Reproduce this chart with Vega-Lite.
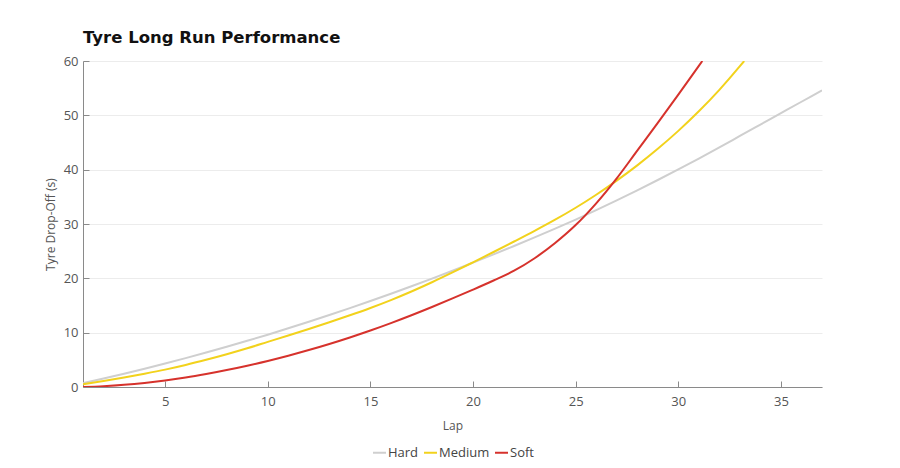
{
  "$schema": "https://vega.github.io/schema/vega-lite/v6.json",
  "autosize": {"type": "none"},
  "width": 739,
  "height": 326,
  "padding": {"left": 83, "top": 61, "right": 78, "bottom": 81},
  "background": "white",
  "title": {
    "text": "Tyre Long Run Performance",
    "anchor": "start",
    "frame": "group",
    "font": "DejaVu Sans",
    "fontSize": 16.5,
    "fontWeight": "bold",
    "color": "#111111",
    "offset": 9
  },
  "config": {
    "view": {"stroke": null},
    "font": "Open Sans",
    "axis": {
      "labelFont": "Open Sans",
      "titleFont": "Open Sans",
      "labelColor": "#555555",
      "titleColor": "#555555",
      "labelFontSize": 13,
      "titleFontSize": 12,
      "titleFontWeight": "normal",
      "domainColor": "#8a8a8a",
      "tickColor": "#8a8a8a",
      "gridColor": "#ececec"
    },
    "legend": {
      "labelFont": "Open Sans",
      "labelFontSize": 13,
      "labelColor": "#444444"
    }
  },
  "data": {
    "values": [
      {"lap": 1, "tyre": "Hard", "drop": 0.7},
      {"lap": 2, "tyre": "Hard", "drop": 1.55},
      {"lap": 3, "tyre": "Hard", "drop": 2.44},
      {"lap": 4, "tyre": "Hard", "drop": 3.36},
      {"lap": 5, "tyre": "Hard", "drop": 4.32},
      {"lap": 6, "tyre": "Hard", "drop": 5.31},
      {"lap": 7, "tyre": "Hard", "drop": 6.34},
      {"lap": 8, "tyre": "Hard", "drop": 7.4},
      {"lap": 9, "tyre": "Hard", "drop": 8.5},
      {"lap": 10, "tyre": "Hard", "drop": 9.63},
      {"lap": 11, "tyre": "Hard", "drop": 10.8},
      {"lap": 12, "tyre": "Hard", "drop": 12.0},
      {"lap": 13, "tyre": "Hard", "drop": 13.24},
      {"lap": 14, "tyre": "Hard", "drop": 14.51},
      {"lap": 15, "tyre": "Hard", "drop": 15.82},
      {"lap": 16, "tyre": "Hard", "drop": 17.16},
      {"lap": 17, "tyre": "Hard", "drop": 18.54},
      {"lap": 18, "tyre": "Hard", "drop": 19.95},
      {"lap": 19, "tyre": "Hard", "drop": 21.4},
      {"lap": 20, "tyre": "Hard", "drop": 22.88},
      {"lap": 21, "tyre": "Hard", "drop": 24.4},
      {"lap": 22, "tyre": "Hard", "drop": 25.95},
      {"lap": 23, "tyre": "Hard", "drop": 27.54},
      {"lap": 24, "tyre": "Hard", "drop": 29.16},
      {"lap": 25, "tyre": "Hard", "drop": 30.82},
      {"lap": 26, "tyre": "Hard", "drop": 32.55},
      {"lap": 27, "tyre": "Hard", "drop": 34.35},
      {"lap": 28, "tyre": "Hard", "drop": 36.2},
      {"lap": 29, "tyre": "Hard", "drop": 38.1},
      {"lap": 30, "tyre": "Hard", "drop": 40.05},
      {"lap": 31, "tyre": "Hard", "drop": 42.05},
      {"lap": 32, "tyre": "Hard", "drop": 44.1},
      {"lap": 33, "tyre": "Hard", "drop": 46.2},
      {"lap": 34, "tyre": "Hard", "drop": 48.3},
      {"lap": 35, "tyre": "Hard", "drop": 50.4},
      {"lap": 36, "tyre": "Hard", "drop": 52.5},
      {"lap": 37, "tyre": "Hard", "drop": 54.6},
      {"lap": 1, "tyre": "Medium", "drop": 0.5},
      {"lap": 2, "tyre": "Medium", "drop": 1.1},
      {"lap": 3, "tyre": "Medium", "drop": 1.75},
      {"lap": 4, "tyre": "Medium", "drop": 2.45},
      {"lap": 5, "tyre": "Medium", "drop": 3.2},
      {"lap": 6, "tyre": "Medium", "drop": 4.05},
      {"lap": 7, "tyre": "Medium", "drop": 5.0},
      {"lap": 8, "tyre": "Medium", "drop": 6.02},
      {"lap": 9, "tyre": "Medium", "drop": 7.12},
      {"lap": 10, "tyre": "Medium", "drop": 8.3},
      {"lap": 11, "tyre": "Medium", "drop": 9.48},
      {"lap": 12, "tyre": "Medium", "drop": 10.68},
      {"lap": 13, "tyre": "Medium", "drop": 11.92},
      {"lap": 14, "tyre": "Medium", "drop": 13.2},
      {"lap": 15, "tyre": "Medium", "drop": 14.55},
      {"lap": 16, "tyre": "Medium", "drop": 16.0},
      {"lap": 17, "tyre": "Medium", "drop": 17.58},
      {"lap": 18, "tyre": "Medium", "drop": 19.28},
      {"lap": 19, "tyre": "Medium", "drop": 21.08},
      {"lap": 20, "tyre": "Medium", "drop": 22.95},
      {"lap": 21, "tyre": "Medium", "drop": 24.85},
      {"lap": 22, "tyre": "Medium", "drop": 26.78},
      {"lap": 23, "tyre": "Medium", "drop": 28.74},
      {"lap": 24, "tyre": "Medium", "drop": 30.79},
      {"lap": 25, "tyre": "Medium", "drop": 32.99},
      {"lap": 26, "tyre": "Medium", "drop": 35.39},
      {"lap": 27, "tyre": "Medium", "drop": 37.99},
      {"lap": 28, "tyre": "Medium", "drop": 40.79},
      {"lap": 29, "tyre": "Medium", "drop": 43.84},
      {"lap": 30, "tyre": "Medium", "drop": 47.14},
      {"lap": 31, "tyre": "Medium", "drop": 50.74},
      {"lap": 32, "tyre": "Medium", "drop": 54.69},
      {"lap": 33, "tyre": "Medium", "drop": 59.04},
      {"lap": 33.21, "tyre": "Medium", "drop": 60.0},
      {"lap": 1, "tyre": "Soft", "drop": 0.0},
      {"lap": 2, "tyre": "Soft", "drop": 0.15},
      {"lap": 3, "tyre": "Soft", "drop": 0.4},
      {"lap": 4, "tyre": "Soft", "drop": 0.75},
      {"lap": 5, "tyre": "Soft", "drop": 1.2},
      {"lap": 6, "tyre": "Soft", "drop": 1.75},
      {"lap": 7, "tyre": "Soft", "drop": 2.4},
      {"lap": 8, "tyre": "Soft", "drop": 3.12},
      {"lap": 9, "tyre": "Soft", "drop": 3.92},
      {"lap": 10, "tyre": "Soft", "drop": 4.8},
      {"lap": 11, "tyre": "Soft", "drop": 5.76},
      {"lap": 12, "tyre": "Soft", "drop": 6.8},
      {"lap": 13, "tyre": "Soft", "drop": 7.92},
      {"lap": 14, "tyre": "Soft", "drop": 9.12},
      {"lap": 15, "tyre": "Soft", "drop": 10.4},
      {"lap": 16, "tyre": "Soft", "drop": 11.76},
      {"lap": 17, "tyre": "Soft", "drop": 13.2},
      {"lap": 18, "tyre": "Soft", "drop": 14.72},
      {"lap": 19, "tyre": "Soft", "drop": 16.3},
      {"lap": 20, "tyre": "Soft", "drop": 17.92},
      {"lap": 21, "tyre": "Soft", "drop": 19.6},
      {"lap": 22, "tyre": "Soft", "drop": 21.4},
      {"lap": 23, "tyre": "Soft", "drop": 23.7},
      {"lap": 24, "tyre": "Soft", "drop": 26.5},
      {"lap": 25, "tyre": "Soft", "drop": 29.8},
      {"lap": 26, "tyre": "Soft", "drop": 33.8},
      {"lap": 27, "tyre": "Soft", "drop": 38.4},
      {"lap": 28, "tyre": "Soft", "drop": 43.5},
      {"lap": 29, "tyre": "Soft", "drop": 48.6},
      {"lap": 30, "tyre": "Soft", "drop": 53.8},
      {"lap": 31, "tyre": "Soft", "drop": 59.1},
      {"lap": 31.17, "tyre": "Soft", "drop": 60.0}
    ]
  },
  "mark": {"type": "line", "interpolate": "monotone", "strokeWidth": 2, "clip": true},
  "encoding": {
    "x": {
      "field": "lap",
      "type": "quantitative",
      "scale": {"domain": [1, 37], "nice": false, "zero": false},
      "axis": {
        "title": "Lap",
        "values": [5, 10, 15, 20, 25, 30, 35],
        "grid": false,
        "tickSize": -6,
        "labelPadding": 14,
        "titlePadding": 12
      }
    },
    "y": {
      "field": "drop",
      "type": "quantitative",
      "scale": {"domain": [0, 60], "nice": false},
      "axis": {
        "title": "Tyre Drop-Off (s)",
        "values": [0, 10, 20, 30, 40, 50, 60],
        "grid": true,
        "tickSize": -6,
        "labelPadding": 11,
        "titlePadding": 6
      }
    },
    "color": {
      "field": "tyre",
      "type": "nominal",
      "scale": {"domain": ["Hard", "Medium", "Soft"], "range": ["#cfcfcf", "#f2d21c", "#d6322c"]},
      "legend": {
        "title": null,
        "orient": "none",
        "direction": "horizontal",
        "legendX": 289,
        "legendY": 384,
        "symbolType": "stroke",
        "symbolSize": 169,
        "symbolStrokeWidth": 2,
        "labelOffset": 1,
        "columnPadding": 1
      }
    }
  }
}
